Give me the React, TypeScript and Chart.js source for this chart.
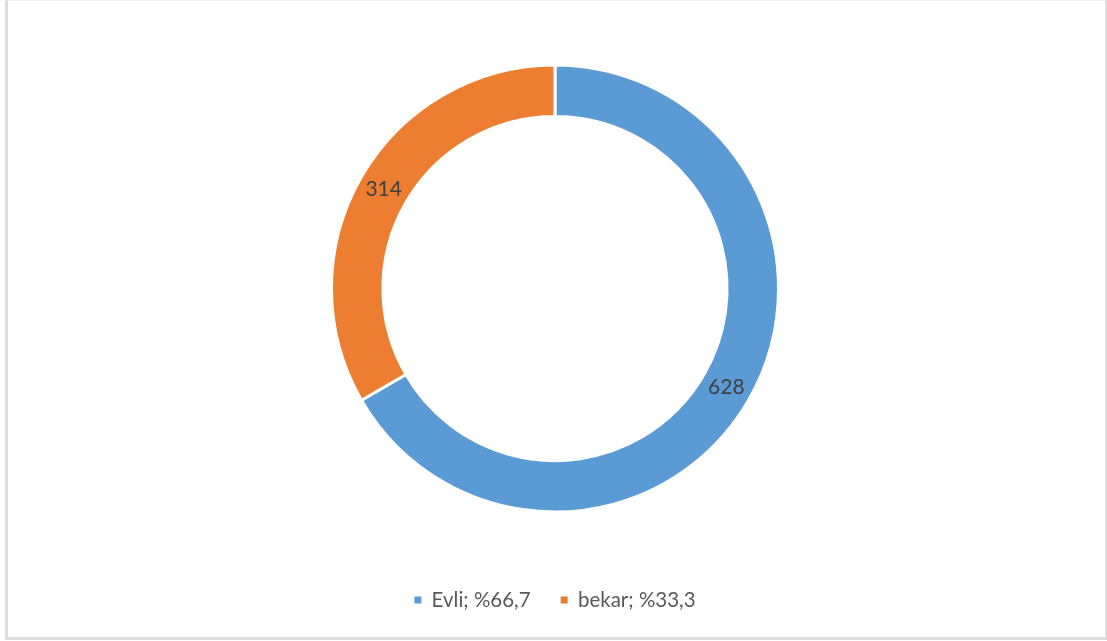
import React, { useEffect, useRef } from "react";
import { Chart, registerables } from "chart.js";

Chart.register(...registerables);

const categories = ["Evli", "bekar"];
const counts = [628, 314];
const percentLabels = ["%66,7", "%33,3"];
const colors = ["#5B9BD5", "#ED7D31"];

const valueLabelPlugin = {
  id: "valueLabels",
  afterDatasetsDraw(chart: any) {
    const { ctx } = chart;
    const meta = chart.getDatasetMeta(0);
    ctx.save();
    ctx.font = "21px Lato, 'Open Sans', sans-serif";
    ctx.fillStyle = "#404040";
    ctx.textAlign = "center";
    ctx.textBaseline = "middle";
    meta.data.forEach((arc: any, i: number) => {
      const p = arc.getCenterPoint();
      ctx.fillText(String(counts[i]), p.x, p.y);
    });
    ctx.restore();
  },
};

export default function App() {
  const ref = useRef<HTMLCanvasElement | null>(null);
  useEffect(() => {
    if (!ref.current) return;
    const defaultGen = (Chart as any).overrides.doughnut.plugins.legend.labels.generateLabels;
    const chart = new Chart(ref.current, {
      type: "doughnut",
      data: {
        labels: categories.map((c, i) => `${c}; ${percentLabels[i]}`),
        datasets: [
          {
            data: counts,
            backgroundColor: colors,
            borderColor: "#ffffff",
            borderWidth: 3,
            hoverOffset: 0,
          },
        ],
      },
      options: {
        animation: false,
        responsive: false,
        cutout: "77%",
        layout: { padding: { top: 17.25, bottom: 20.75, left: 330, right: 327 } },
        plugins: {
          tooltip: { enabled: false },
          legend: {
            position: "bottom",
            labels: {
              boxWidth: 7,
              boxHeight: 7,
              padding: 30,
              color: "#595959",
              font: { size: 20.5, family: "Lato, 'Open Sans', sans-serif" },
              generateLabels: (c: any) =>
                defaultGen(c).map((l: any) => ({ ...l, lineWidth: 0, strokeStyle: "rgba(0,0,0,0)" })),
            },
          },
        },
      },
      plugins: [valueLabelPlugin],
    });
    return () => chart.destroy();
  }, []);
  return (
    <div style={{ position: "absolute", left: 0, top: 0, width: 1107, height: 641, background: "#fff" }}>
      <div
        style={{
          position: "absolute",
          left: 5,
          top: 0,
          width: 1097,
          height: 636,
          borderLeft: "3px solid #dedede",
          borderRight: "3px solid #dedede",
          borderBottom: "3px solid #dedede",
          borderTop: "1px solid #f0f0f0",
          boxSizing: "content-box",
        }}
      />
      <canvas ref={ref} width={1107} height={641} style={{ position: "absolute", left: 0, top: 0 }} />
    </div>
  );
}
